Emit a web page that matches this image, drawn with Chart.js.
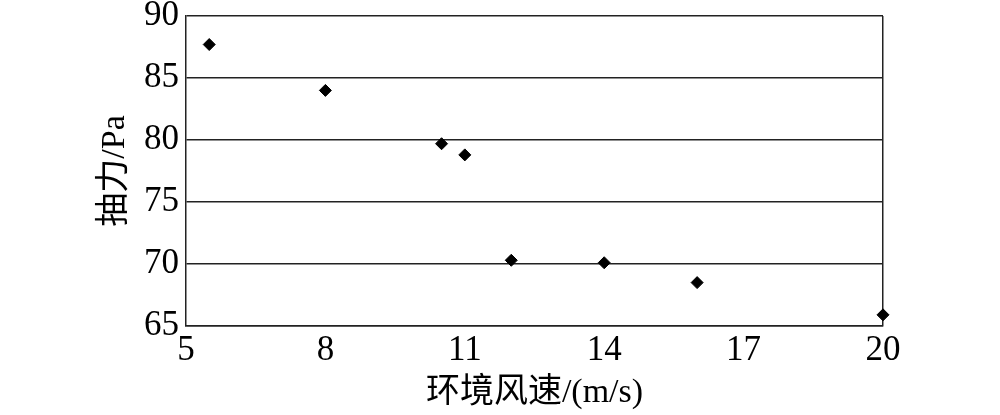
<!DOCTYPE html>
<html>
<head>
<meta charset="utf-8">
<script src="https://cdn.jsdelivr.net/npm/chart.js@4"></script>
<style>
html,body{margin:0;padding:0;background:#fff;}
#wrap{width:1000px;height:415px;}
</style>
</head>
<body>
<div id="wrap"><canvas id="c" width="1000" height="415"></canvas></div>
<script>
const windSpeed = [5.5, 8, 10.5, 11, 12, 14, 16, 20];
const suction = [87.7, 84.0, 79.7, 78.8, 70.3, 70.1, 68.5, 65.9];
const xTitle = '环境风速/(m/s)';
const yTitle = '抽力/Pa';
const xRange = {min: 5, max: 20, step: 3};
const yRange = {min: 65, max: 90, step: 5};

const points = windSpeed.map((x, i) => ({x: x, y: suction[i]}));
const serif = "'Liberation Serif', 'Noto Sans CJK SC', serif";
const lineCol = '#222';

new Chart(document.getElementById('c'), {
  type: 'scatter',
  data: {
    datasets: [{
      data: points,
      pointStyle: 'rectRot',
      pointRadius: 6,
      pointBorderWidth: 1,
      backgroundColor: '#000',
      borderColor: '#000',
      clip: false
    }]
  },
  options: {
    responsive: false,
    animation: false,
    devicePixelRatio: 1,
    layout: {padding: {left: 0, right: 117, top: 16, bottom: 0}},
    plugins: {legend: {display: false}, tooltip: {enabled: false}},
    scales: {
      x: {
        type: 'linear',
        min: xRange.min, max: xRange.max,
        afterFit: s => { s.height = 89; s.paddingLeft = 0; s.paddingRight = 0; },
        ticks: {stepSize: xRange.step, color: '#000', padding: 4, font: {family: serif, size: 35}, maxRotation: 0},
        grid: {
          drawTicks: false,
          color: c => (c.tick && c.tick.value === xRange.max) ? lineCol : 'rgba(0,0,0,0)',
          lineWidth: 1.5
        },
        border: {display: true, color: lineCol, width: 1.5},
        title: {display: true, text: xTitle, color: '#000', font: {family: serif, size: 34}, padding: {top: 0, bottom: 2}}
      },
      y: {
        type: 'linear',
        min: yRange.min, max: yRange.max,
        afterFit: s => { s.width = 186; s.paddingTop = 0; s.paddingBottom = 0; },
        ticks: {stepSize: yRange.step, color: '#000', padding: 7, font: {family: serif, size: 35}},
        grid: {drawTicks: false, color: lineCol, lineWidth: 1.5},
        border: {display: true, color: lineCol, width: 1.5},
        title: {display: true, text: yTitle, color: '#000', font: {family: serif, size: 34}, padding: {top: 95, bottom: 0}}
      }
    }
  }
});
</script>
</body>
</html>
